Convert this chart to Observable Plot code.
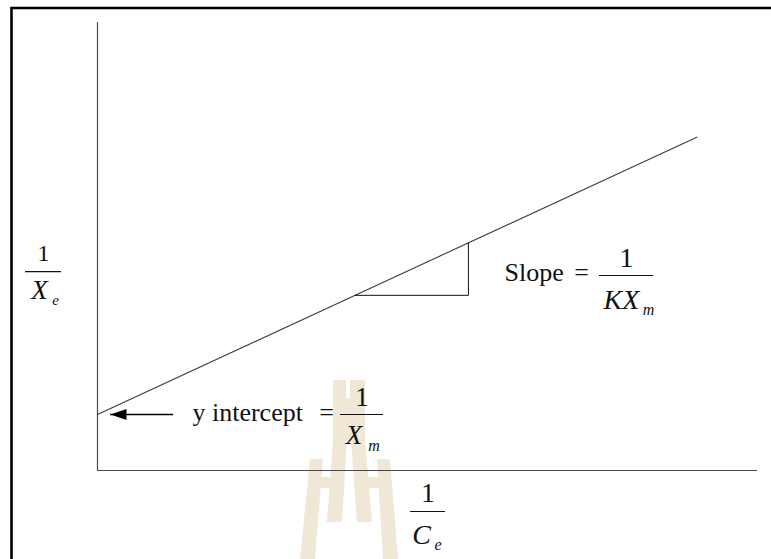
<!DOCTYPE html>
<html>
<head>
<meta charset="utf-8">
<script src="https://cdn.jsdelivr.net/npm/d3@7"></script>
<script src="https://cdn.jsdelivr.net/npm/@observablehq/plot@0.6"></script>
<style>
  html, body { margin: 0; padding: 0; background: #fff; overflow: hidden; }
  #chart { position: relative; width: 771px; height: 559px; }
</style>
</head>
<body>
<div id="chart"></div>
<script>
// Langmuir isotherm, linearised form: 1/Xe plotted against 1/Ce
const axisExtent = [0, 10];            // both axes run over the same nominal range
const lineX = [0, 9.08];               // 1/Ce at the two ends of the fitted line
const lineY = [1.25, 7.44];            // 1/Xe at the two ends of the fitted line
const interceptY = 1.25;               // 1/Xm, where the line meets the vertical axis
const triangleX = [3.9, 5.62, 5.62];   // slope triangle: run then rise
const triangleY = [3.91, 3.91, 5.08];

const serif = "'Liberation Serif', 'Times New Roman', serif";
const ink = "#111";

// one piece of text, baseline at (x, y) shifted by (dx, dy) pixels
function label(text, x, y, opts = {}) {
  return Plot.text([text], {
    x: () => x, y: () => y, text: d => d,
    lineAnchor: "bottom", fontFamily: serif, fill: ink,
    fontSize: 26, ...opts
  });
}

// a stacked fraction "num / den_sub" centred on its bar at (x, y)
function fraction(f) {
  return [
    Plot.ruleY([f.y], {x1: f.x - f.half, x2: f.x + f.half, stroke: ink, strokeWidth: 1.1}),
    label(f.num, f.x, f.y, {dy: f.numDy, fontSize: f.numSize}),
    label(f.den, f.x, f.y, {dx: f.denDx, dy: f.denDy, fontSize: f.denSize, fontStyle: "italic"}),
    label(f.sub, f.x, f.y, {dx: f.subDx, dy: f.subDy, fontSize: f.subSize, fontStyle: "italic"})
  ];
}

// filled arrow head whose tip sits on the anchor point, pointing left
const arrowHead = {
  draw(ctx) {
    ctx.moveTo(0, 0);
    ctx.lineTo(16, -5.5);
    ctx.lineTo(16, 5.5);
    ctx.closePath();
  }
};

const plot = Plot.plot({
  width: 771,
  height: 559,
  marginLeft: 97,
  marginRight: 14,
  marginTop: 22,
  marginBottom: 89,
  x: {domain: axisExtent, axis: null},
  y: {domain: axisExtent, axis: null},
  style: {background: "transparent", overflow: "visible"},
  marks: [
    // axes
    Plot.ruleX([0], {y1: axisExtent[0], y2: axisExtent[1], stroke: "#4a4a4a", strokeWidth: 1.2}),
    Plot.ruleY([0], {x1: axisExtent[0], x2: axisExtent[1], stroke: "#4a4a4a", strokeWidth: 1.2}),
    // fitted line
    Plot.line(lineX.map((x, i) => ({x, y: lineY[i]})), {x: "x", y: "y", stroke: "#3a3a3a", strokeWidth: 1.1}),
    // slope triangle
    Plot.line(triangleX.map((x, i) => ({x, y: triangleY[i]})), {x: "x", y: "y", stroke: "#111", strokeWidth: 1}),

    // vertical axis title 1/Xe
    ...fraction({x: -0.818, y: 4.44, half: 0.273, num: "1", den: "X", sub: "e",
      numSize: 24, numDy: -11, denSize: 27, denDx: -4, denDy: 27, subSize: 15, subDx: 12, subDy: 33}),

    // horizontal axis title 1/Ce
    ...fraction({x: 5.008, y: -0.915, half: 0.265, num: "1", den: "C", sub: "e",
      numSize: 27, numDy: -9, denSize: 28, denDx: -6.5, denDy: 33, subSize: 16, subDx: 10, subDy: 39}),

    // slope annotation
    label("Slope", 6.167, 4.241, {textAnchor: "start"}),
    label("=", 7.333, 4.241),
    ...fraction({x: 8.015, y: 4.353, half: 0.409, num: "1", den: "KX", sub: "m",
      numSize: 28, numDy: -8, denSize: 28, denDx: -5, denDy: 34, subSize: 16, subDx: 22, subDy: 40}),

    // intercept annotation with arrow
    Plot.ruleY([interceptY], {x1: 0.197, x2: 1.152, stroke: "#000", strokeWidth: 1.3}),
    Plot.dot([interceptY], {x: () => 0.197, y: d => d, symbol: arrowHead, fill: "#000", stroke: "none"}),
    label("y intercept", 1.439, interceptY, {textAnchor: "start", dy: 6}),
    label("=", 3.47, interceptY, {dy: 6}),
    ...fraction({x: 4.008, y: interceptY, half: 0.326, num: "1", den: "X", sub: "m",
      numSize: 27, numDy: -9, denSize: 27, denDx: -8, denDy: 29, subSize: 16, subDx: 12, subDy: 36})
  ]
});

// page frame and faint watermark drawn behind the chart
const svg = d3.select(plot);
const back = svg.insert("g", ":first-child");
back.append("rect").attr("width", 771).attr("height", 559).attr("fill", "#fff");
const wm = back.append("g").attr("fill", "#f0e7d7");
[
  [[333, 380], [346, 380], [346, 398], [350, 398], [350, 380], [365, 380], [365, 440], [333, 440]],
  [[333, 440], [347, 440], [342, 522], [327, 522]],
  [[351, 440], [365, 440], [372, 522], [357, 522]],
  [[310, 459], [323, 459], [315, 559], [300, 559]],
  [[377, 459], [390, 459], [398, 559], [383, 559]],
  [[320, 477], [333, 477], [332, 488], [319, 488]],
  [[367, 477], [380, 477], [381, 488], [368, 488]]
].forEach(p => wm.append("polygon").attr("points", p.map(q => q.join(",")).join(" ")));
back.append("path").attr("d", "M11.5,559V8H771").attr("fill", "none").attr("stroke", "#000").attr("stroke-width", 2.6);

document.getElementById("chart").append(plot);
</script>
</body>
</html>
